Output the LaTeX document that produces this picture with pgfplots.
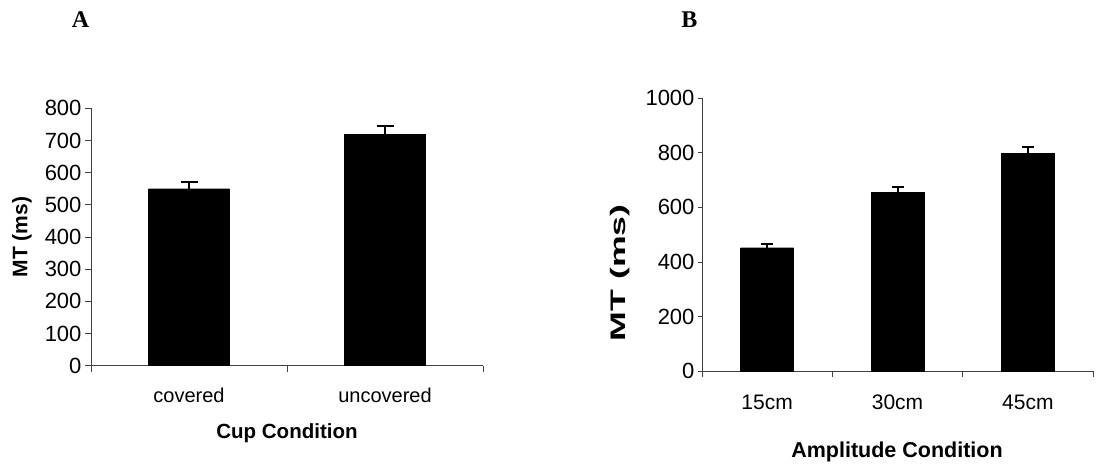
\documentclass[border=0pt]{standalone}
\usepackage{graphicx}
\usepackage{fontspec}
\setmainfont{Liberation Sans}
\newfontfamily\seriffont{Liberation Serif}
\usepackage{pgfplots}
\pgfplotsset{compat=1.18}
\begin{document}
\begin{tikzpicture}
\useasboundingbox (0,0) rectangle (1117pt,465pt);
\pgfplotsset{
  common/.style={
    scale only axis,
    anchor=south west,
    axis x line*=bottom, axis y line*=left,
    axis line style={black!75, line width=0.8pt},
    tick align=outside,
    major x tick style={draw=none},
    minor x tick style={black!75, line width=0.8pt},
    ytick style={black!75, line width=0.8pt},
    major tick length=6pt, minor tick length=6pt,
    /pgf/number format/assume math mode=true,
    /pgf/number format/1000 sep={},
    yticklabel style={font=\fontsize{22}{26}\selectfont},
    xticklabel style={font=\fontsize{20}{24}\selectfont, text height=15pt, text depth=0pt},
    title style={anchor=center, font=\fontsize{24}{28}\selectfont\seriffont\bfseries},
    clip=false,
  }
}
% Panel A
\begin{axis}[common,
  at={(91pt,99.3pt)}, width=392pt, height=257.4pt,
  xmin=-0.5, xmax=1.5, ymin=0, ymax=800,
  ytick={0,100,...,800},
  xtick={0,1}, xticklabels={covered,uncovered},
  minor xtick={-0.5,0.5,1.5},
  xticklabel style={yshift=-12pt},
  ylabel={\bfseries MT (ms)},
  ylabel style={at={(axis description cs:-0.176,0.5)}, anchor=center, font=\fontsize{21}{25}\selectfont},
  xlabel={\bfseries Cup Condition},
  xlabel style={at={(axis description cs:0.5,-0.261)}, anchor=center, font=\fontsize{20.5}{25}\selectfont},
  title={A},
  title style={at={(axis description cs:-0.027,1.32)}},
]
\addplot[ybar, fill=black, draw=black, bar width=81pt,
  error bars/.cd, y dir=plus, y explicit,
  error bar style={line width=2.2pt, black},
  error mark options={rotate=90, black, mark size=8.5pt, line width=2.2pt}]
  coordinates {(0,550) +- (0,20) (1,720) +- (0,25)};
\end{axis}
% Panel B
\begin{axis}[common,
  at={(702pt,94pt)}, width=391pt, height=272.7pt,
  xmin=-0.5, xmax=2.5, ymin=0, ymax=1000,
  ytick={0,200,...,1000},
  xtick={0,1,2}, xticklabels={15cm,30cm,45cm},
  minor xtick={-0.5,0.5,1.5,2.5},
  major tick length=4pt,
  xticklabel style={yshift=-16pt, font=\fontsize{21}{25}\selectfont},
  ylabel={\bfseries\scalebox{1.7}[1]{MT (ms)}},
  ylabel style={at={(axis description cs:-0.21,0.36)}, anchor=center, font=\fontsize{21}{25}\selectfont},
  xlabel={\bfseries Amplitude Condition},
  xlabel style={at={(axis description cs:0.4987,-0.297)}, anchor=center, font=\fontsize{21.5}{26}\selectfont},
  title={B},
  title style={at={(axis description cs:-0.032,1.268)}},
]
\addplot[ybar, fill=black, draw=black, bar width=53pt,
  error bars/.cd, y dir=plus, y explicit,
  error bar style={line width=2pt, black},
  error mark options={rotate=90, black, mark size=6pt, line width=2pt}]
  coordinates {(0,452) +- (0,15) (1,655) +- (0,21) (2,797) +- (0,23)};
\end{axis}
\end{tikzpicture}
\end{document}
